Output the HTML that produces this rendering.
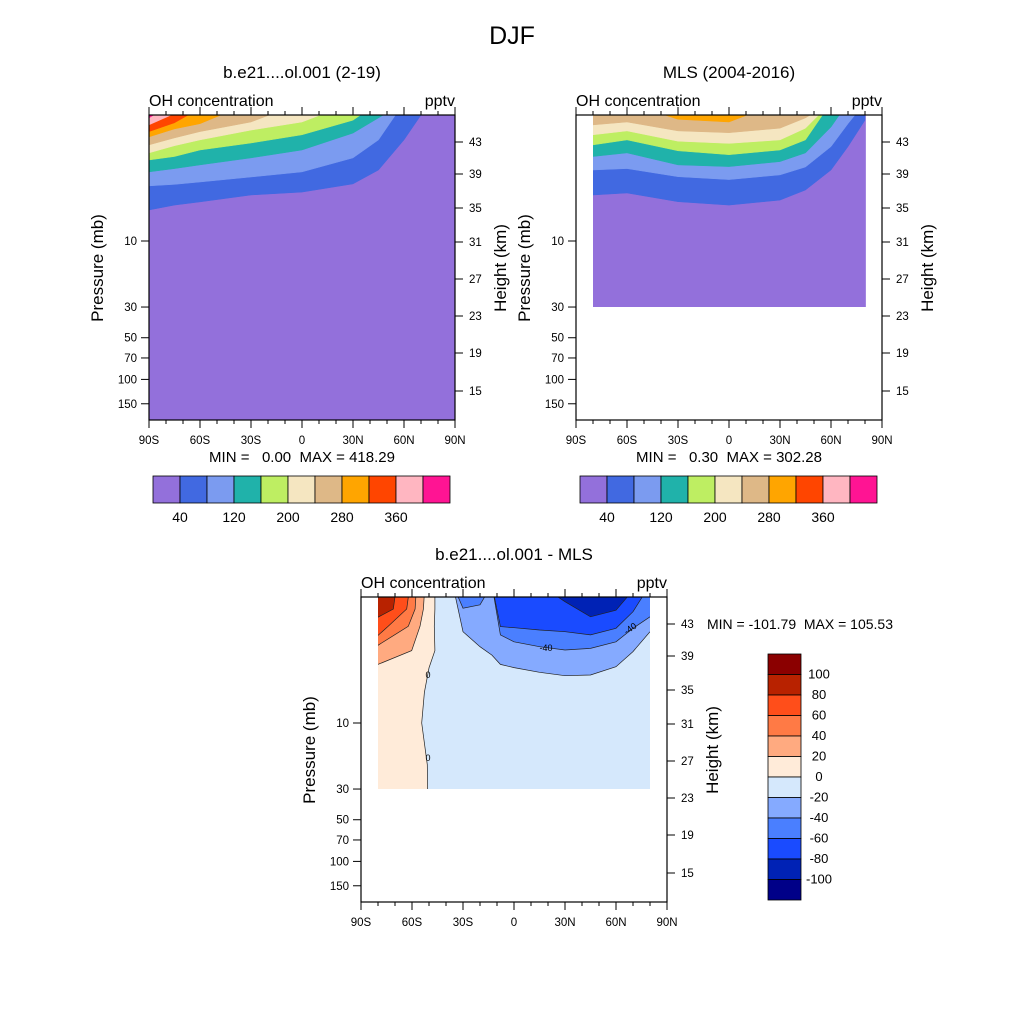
<!DOCTYPE html>
<html><head><meta charset="utf-8"><style>
html,body{margin:0;padding:0;background:#fff;}
svg{display:block;font-family:"Liberation Sans",sans-serif;}
</style></head><body>
<svg id="fig" width="1024" height="1024" viewBox="0 0 1024 1024" xmlns="http://www.w3.org/2000/svg">
<rect x="0" y="0" width="1024" height="1024" fill="#fff"/>
<text x="512" y="44" font-size="25" text-anchor="middle">DJF</text>
</svg>
<script>
// ---------- data ----------
const topLevels = [40,80,120,160,200,240,280,320,360,400];
const topColors = ["#9370DB","#4169E1","#7B9BF0","#20B2AA","#BEEE62","#F5E6C1","#DEB887","#FFA500","#FF4500","#FFB6C1","#FF1493"];
const cbarLabels = ["40","120","200","280","360"];
const latTicks = [-90,-60,-30,0,30,60,90];
const latTickLabels = ["90S","60S","30S","0","30N","60N","90N"];
const presTicks = [10,30,50,70,100,150];
const heightTicks = [43,39,35,31,27,23,19,15];
const heightTickY = [27,59,93,127,164,201,238,276]; // offset from panel top (km axis)

// model panel: lat grid and boundary pressure (mb) per contour level
const modelLats = [-90,-75,-60,-30,0,30,45,60,75,90];
const modelBounds = [
 [5.97,5.5,5.22,4.65,4.43,3.87,3.07,1.86,1.0,1.0],
 [4.0,3.9,3.75,3.45,3.17,2.51,1.86,1.0,1.0,1.0],
 [3.17,3.0,2.82,2.51,2.2,1.66,1.29,1.0,1.0,1.0],
 [2.6,2.45,2.2,1.96,1.71,1.34,1.0,1.0,1.0,1.0],
 [2.31,2.05,1.86,1.58,1.38,1.0,1.0,1.0,1.0,1.0],
 [2.02,1.8,1.62,1.38,1.0,1.0,1.0,1.0,1.0,1.0],
 [1.77,1.55,1.42,1.0,1.0,1.0,1.0,1.0,1.0,1.0],
 [1.62,1.4,1.1,1.0,1.0,1.0,1.0,1.0,1.0,1.0],
 [1.45,1.2,1.0,1.0,1.0,1.0,1.0,1.0,1.0,1.0],
 [1.29,1.0,1.0,1.0,1.0,1.0,1.0,1.0,1.0,1.0]
];
// MLS panel
const mlsLats = [-80,-60,-30,0,30,45,60,70,80];
const mlsBounds = [
 [4.65,4.5,5.2,5.5,5.06,4.28,3.07,2.08,1.34],
 [3.07,3.0,3.43,3.6,3.33,2.92,2.08,1.42,1.0],
 [2.45,2.31,2.82,2.9,2.67,2.31,1.5,1.0,1.0],
 [2.02,1.86,2.23,2.38,2.2,1.86,1.0,1.0,1.0],
 [1.71,1.6,1.9,1.97,1.86,1.53,1.0,1.0,1.0],
 [1.45,1.38,1.6,1.65,1.53,1.29,1.0,1.0,1.0],
 [1.0,1.0,1.32,1.38,1.0,1.0,1.0,1.0,1.0]
];
// difference panel
const diffLevels = [100,80,60,40,20,0,-20,-40,-60,-80,-100];
const diffColors = ["#8B0000","#B82200","#FF4E1A","#FF7A45","#FFAA80","#FFEBD9","#D5E8FC","#85AAFF","#4A7FFF","#1A4BFF","#0022B5","#000088"];
const posPres = [1.0,1.5,2,3,4,6,10,20,30];
const posLevels = [0,20,40,60,80,100];
const posBoundLats = [
 [-46.5,-46.5,-46.9,-46.5,-50,-52.7,-54.3,-51,-50.8],
 [-52.4,-53.3,-55.3,-60.2,-85,-90,-90,-90,-90],
 [-57.3,-58.2,-62.2,-85,-90,-90,-90,-90,-90],
 [-61.2,-63.1,-74,-90,-90,-90,-90,-90,-90],
 [-69,-71,-90,-90,-90,-90,-90,-90,-90],
 [-74,-85,-90,-90,-90,-90,-90,-90,-90]
];
const negLats = [-36,-30,-20,-13,-8,0,15,30,45,60,70,80];
const negLevels = [-20,-40,-60,-80];
const negBounds = [
 [1.0,2.19,2.81,3.23,3.77,3.98,4.30,4.55,4.50,3.92,3.05,2.19],
 [1.0,1.48,1.40,1.0,2.31,2.59,2.81,2.97,2.89,2.59,2.07,1.71],
 [1.0,1.0,1.0,1.0,2.01,2.05,2.13,2.19,2.31,2.07,1.57,1.0],
 [1.0,1.0,1.0,1.0,1.0,1.0,1.0,1.33,1.71,1.53,1.1,1.0]
];

// ---------- drawing ----------
const NS="http://www.w3.org/2000/svg";
const svg=document.getElementById('fig');
function mk(tag,attrs,parent){const e=document.createElementNS(NS,tag);for(const k in attrs)e.setAttribute(k,attrs[k]);(parent||svg).appendChild(e);return e;}
function txt(s,x,y,size,anchor,parent,name){const t=mk('text',{x:x,y:y,'font-size':size,'text-anchor':anchor||'start'},parent);t.textContent=s;


return t;}

let clipId=0;
function makePanel(px,py,name){
  const W=306,H=305;
  const g=mk('g',{});
  
  
  const xs=lat=>px+(lat+90)*W/180;
  const ys=p=>py+126+(Math.log10(p)-1)*138.4;
  return {g,xs,ys,px,py,W,H};
}
function clipRect(P,x0,y0,x1,y1){
  const id='c'+(clipId++);
  const cp=mk('clipPath',{id:id});
  mk('rect',{x:x0,y:y0,width:x1-x0,height:y1-y0},cp);
  const g=mk('g',{'clip-path':'url(#'+id+')'},P.g);
  
  
  return g;
}
function topBands(P,g,lats,bounds,colors,lines){
  for(let i=0;i<bounds.length;i++){
    let d='M'+P.xs(lats[0])+','+(P.py-20);
    lats.forEach((l,j)=>{d+=' L'+P.xs(l).toFixed(1)+','+P.ys(bounds[i][j]).toFixed(1);});
    d+=' L'+P.xs(lats[lats.length-1])+','+(P.py-20)+' Z';
    const p=mk('path',{d:d,fill:colors[i],stroke:lines?'none':colors[i],'stroke-width':0.5},g);
    
    
  }
  if(lines){
    for(let i=0;i<bounds.length;i++){
      let d='';
      lats.forEach((l,j)=>{d+=(j?' L':'M')+P.xs(l).toFixed(1)+','+P.ys(bounds[i][j]).toFixed(1);});
      const p=mk('path',{d:d,fill:'none',stroke:'#222','stroke-width':0.7},g);
      
      
    }
  }
}
function axes(P,title){
  const {px,py,W,H,xs,ys,g}=P;
  mk('rect',{x:px,y:py,width:W,height:H,fill:'none',stroke:'#000','stroke-width':1.2},g);
  for(let l=-90;l<=90;l+=10){
    const major=l%30===0, x=xs(l);
    mk('line',{x1:x,y1:py+H,x2:x,y2:py+H+(major?8:4),stroke:'#000','stroke-width':1},g);
    mk('line',{x1:x,y1:py,x2:x,y2:py-(major?8:4),stroke:'#000','stroke-width':1},g);
  }
  latTicks.forEach((l,i)=>txt(latTickLabels[i],xs(l),py+H+24,11.5,'middle',g,'x-tick-label'));
  presTicks.forEach(p=>{const y=ys(p);mk('line',{x1:px-8,y1:y,x2:px,y2:y,stroke:'#000','stroke-width':1},g);
    txt(String(p),px-12,y+4,11.5,'end',g,'y-tick-label');});
  heightTicks.forEach((h,i)=>{const y=py+heightTickY[i];mk('line',{x1:px+W,y1:y,x2:px+W+8,y2:y,stroke:'#000','stroke-width':1},g);
    txt(String(h),px+W+14,y+4,11.5,'start',g,'height-tick-label');});
  txt('OH concentration',px,py-9,16,'start',g,'field-label');
  txt('pptv',px+W,py-9,16,'end',g,'units-label');
  txt(title,px+W/2,py-37,17,'middle',g,'panel-title');
  const yt=txt('Pressure (mb)',0,0,17,'middle',g,'y-axis-title');
  yt.setAttribute('transform','translate('+(px-46)+','+(py+153)+') rotate(-90)');
  const ht=txt('Height (km)',0,0,17,'middle',g,'right-axis-title');
  ht.setAttribute('transform','translate('+(px+W+51)+','+(py+153)+') rotate(-90)');
}
function hbar(x0,y0,colors,name){
  const g=mk('g',{});
  
  
  const bw=297/colors.length;
  colors.forEach((c,i)=>{const r=mk('rect',{x:x0+i*bw,y:y0,width:bw,height:27,fill:c,stroke:'#000','stroke-width':0.8},g);
    
    });
  cbarLabels.forEach((s,i)=>txt(s,x0+(2*i+1)*bw,y0+46,14,'middle',g,'colorbar-label'));
}
const NB='\u00A0';

// Panel 1: model
const P1=makePanel(149,115,'model-panel');
const g1=clipRect(P1,149,115,455,420);
mk('rect',{x:149,y:115,width:306,height:305,fill:topColors[0]},g1);
topBands(P1,g1,modelLats,modelBounds,topColors.slice(1),false);
axes(P1,'b.e21....ol.001 (2-19)');
txt('MIN ='+NB+NB+NB+'0.00'+NB+NB+'MAX = 418.29',302,462,15,'middle',P1.g,'min-max-text');
hbar(153,476,topColors,'model-colorbar');

// Panel 2: MLS
const P2=makePanel(576,115,'mls-panel');
const g2=clipRect(P2,P2.xs(-80),115,P2.xs(80.5),P2.ys(30));
mk('rect',{x:0,y:0,width:1024,height:1024,fill:topColors[0]},g2);
topBands(P2,g2,mlsLats,mlsBounds,topColors.slice(1),false);
axes(P2,'MLS (2004-2016)');
txt('MIN ='+NB+NB+NB+'0.30'+NB+NB+'MAX = 302.28',729,462,15,'middle',P2.g,'min-max-text');
hbar(580,476,topColors,'mls-colorbar');

// Panel 3: difference
const P3=makePanel(361,597,'difference-panel');
const g3=clipRect(P3,P3.xs(-80),597,P3.xs(80),P3.ys(30));
mk('rect',{x:0,y:0,width:1024,height:1024,fill:diffColors[6]},g3);
const posCols=[diffColors[5],diffColors[4],diffColors[3],diffColors[2],diffColors[1],diffColors[0]];
posBoundLats.forEach((row,i)=>{
  let d='M'+P3.xs(-95)+','+P3.ys(posPres[0]);
  row.forEach((l,j)=>{d+=' L'+P3.xs(l).toFixed(1)+','+P3.ys(posPres[j]).toFixed(1);});
  d+=' L'+P3.xs(-95)+','+P3.ys(posPres[posPres.length-1])+' Z';
  const p=mk('path',{d:d,fill:posCols[i],stroke:'none'},g3);
  
  
});
posBoundLats.forEach(row=>{
  let d='';
  row.forEach((l,j)=>{d+=(j?' L':'M')+P3.xs(l).toFixed(1)+','+P3.ys(posPres[j]).toFixed(1);});
  const p=mk('path',{d:d,fill:'none',stroke:'#222','stroke-width':0.7},g3);
  
  
});
topBands(P3,g3,negLats,negBounds,[diffColors[7],diffColors[8],diffColors[9],diffColors[10]],true);
// contour labels
[[428,678,'0'],[428,761,'0'],[546,651,'-40'],[632,631,'-40']].forEach(a=>{
  const t=txt(a[2],a[0],a[1],9,'middle',P3.g,'contour-label');
  if(a[0]>600)t.setAttribute('transform','rotate(-35 '+a[0]+' '+a[1]+')');
});
axes(P3,'b.e21....ol.001 - MLS');
txt('MIN = -101.79'+NB+NB+'MAX = 105.53',707,629,14,'start',P3.g,'min-max-text');
// vertical colorbar
const vb=mk('g',{});


const bh=246/diffColors.length;
diffColors.forEach((c,i)=>{const r=mk('rect',{x:768,y:654+i*bh,width:33,height:bh,fill:c,stroke:'#000','stroke-width':0.8},vb);
  
  });
diffLevels.forEach((v,i)=>txt(String(v),819,654+(i+1)*bh+4,13,'middle',vb,'colorbar-label'));
</script>
</body></html>
